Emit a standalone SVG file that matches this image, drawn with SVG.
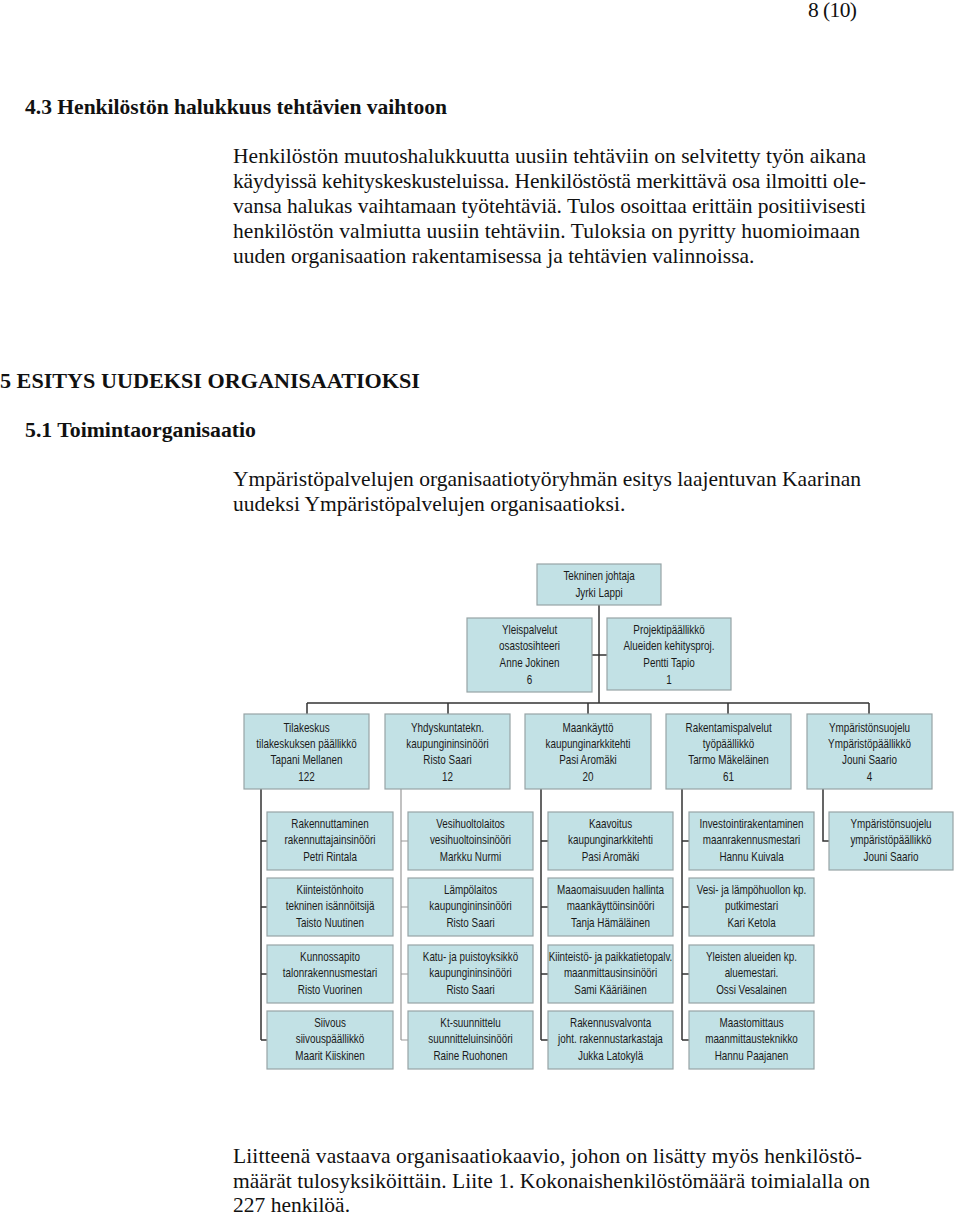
<svg xmlns="http://www.w3.org/2000/svg" width="960" height="1215" viewBox="0 0 960 1215">
<style>
.body{font-family:"Liberation Serif","Times New Roman",serif;font-size:21.5px;fill:#111}
.head{font-family:"Liberation Serif","Times New Roman",serif;font-size:22px;font-weight:bold;fill:#111}
.box{fill:#c2e1e5;stroke:#97a4a6;stroke-width:1.2}
.bt{font-family:"Liberation Sans",Arial,sans-serif;font-size:12.5px;fill:#1a1a1a;text-anchor:middle;transform-box:fill-box;transform-origin:center;transform:scaleX(0.79)}
.ln{fill:none;stroke:#333;stroke-width:1.5}
.lg{fill:none;stroke:#999;stroke-width:1.2}
</style>
<rect width="960" height="1215" fill="#fff"/>
<text class="body" x="808" y="17" textLength="49">8 (10)</text>
<text class="head" x="25" y="114" textLength="422" lengthAdjust="spacingAndGlyphs">4.3 Henkilöstön halukkuus tehtävien vaihtoon</text>
<text class="body" x="233" y="163" textLength="633">Henkilöstön muutoshalukkuutta uusiin tehtäviin on selvitetty työn aikana</text>
<text class="body" x="233" y="188" textLength="633">käydyissä kehityskeskusteluissa. Henkilöstöstä merkittävä osa ilmoitti ole-</text>
<text class="body" x="233" y="213" textLength="633">vansa halukas vaihtamaan työtehtäviä. Tulos osoittaa erittäin positiivisesti</text>
<text class="body" x="233" y="238" textLength="627">henkilöstön valmiutta uusiin tehtäviin. Tuloksia on pyritty huomioimaan</text>
<text class="body" x="233" y="263">uuden organisaation rakentamisessa ja tehtävien valinnoissa.</text>
<text class="head" x="0" y="388" textLength="420" lengthAdjust="spacingAndGlyphs">5 ESITYS UUDEKSI ORGANISAATIOKSI</text>
<text class="head" x="25" y="437" textLength="231" lengthAdjust="spacingAndGlyphs">5.1 Toimintaorganisaatio</text>
<text class="body" x="233" y="486" textLength="628">Ympäristöpalvelujen organisaatiotyöryhmän esitys laajentuvan Kaarinan</text>
<text class="body" x="233" y="511">uudeksi Ympäristöpalvelujen organisaatioksi.</text>
<text class="body" x="233" y="1163" textLength="629">Liitteenä vastaava organisaatiokaavio, johon on lisätty myös henkilöstö-</text>
<text class="body" x="233" y="1188" textLength="637">määrät tulosyksiköittäin. Liite 1. Kokonaishenkilöstömäärä toimialalla on</text>
<text class="body" x="233" y="1212">227 henkilöä.</text>

<g id="connectors">
<path class="ln" d="M599 605V703M592 655H607M307 703H869M307 703V714M448 703V714M588 703V714M728 703V714M869 703V714"/>
<path class="ln" d="M261 789V1040M261 841H267M261 907H267M261 974H267M261 1040H267"/>
<path class="lg" d="M401 789V1040M401 841H408M401 907H408M401 974H408M401 1040H408"/>
<path class="ln" d="M541 789V1040M541 841H548M541 907H548M541 974H548M541 1040H548"/>
<path class="ln" d="M682 789V1040M682 841H689M682 907H689M682 974H689M682 1040H689"/>
<path class="ln" d="M823 789V841H829"/>
</g>

<g id="n-tekninen"><rect class="box" x="537" y="564" width="124" height="41"/><text class="bt" x="599" y="580">Tekninen johtaja</text><text class="bt" x="599" y="597">Jyrki Lappi</text></g>
<g id="n-yleis"><rect class="box" x="467" y="618" width="125" height="74"/><text class="bt" x="529.5" y="634">Yleispalvelut</text><text class="bt" x="529.5" y="650">osastosihteeri</text><text class="bt" x="529.5" y="667">Anne Jokinen</text><text class="bt" x="529.5" y="684">6</text></g>
<g id="n-projekti"><rect class="box" x="607" y="618" width="124" height="72"/><text class="bt" x="669" y="634">Projektipäällikkö</text><text class="bt" x="669" y="650">Alueiden kehitysproj.</text><text class="bt" x="669" y="667">Pentti Tapio</text><text class="bt" x="669" y="684">1</text></g>

<g id="n-tilakeskus"><rect class="box" x="244" y="714" width="125" height="75"/><text class="bt" x="306.5" y="732">Tilakeskus</text><text class="bt" x="306.5" y="748">tilakeskuksen päällikkö</text><text class="bt" x="306.5" y="764">Tapani Mellanen</text><text class="bt" x="306.5" y="781">122</text></g>
<g id="n-yhdysk"><rect class="box" x="385" y="714" width="125" height="75"/><text class="bt" x="447.5" y="732">Yhdyskuntatekn.</text><text class="bt" x="447.5" y="748">kaupungininsinööri</text><text class="bt" x="447.5" y="764">Risto Saari</text><text class="bt" x="447.5" y="781">12</text></g>
<g id="n-maankaytto"><rect class="box" x="525" y="714" width="126" height="75"/><text class="bt" x="588" y="732">Maankäyttö</text><text class="bt" x="588" y="748">kaupunginarkkitehti</text><text class="bt" x="588" y="764">Pasi Aromäki</text><text class="bt" x="588" y="781">20</text></g>
<g id="n-rakentamis"><rect class="box" x="666" y="714" width="125" height="75"/><text class="bt" x="728.5" y="732">Rakentamispalvelut</text><text class="bt" x="728.5" y="748">työpäällikkö</text><text class="bt" x="728.5" y="764">Tarmo Mäkeläinen</text><text class="bt" x="728.5" y="781">61</text></g>
<g id="n-ymparisto"><rect class="box" x="807" y="714" width="125" height="75"/><text class="bt" x="869.5" y="732">Ympäristönsuojelu</text><text class="bt" x="869.5" y="748">Ympäristöpäällikkö</text><text class="bt" x="869.5" y="764">Jouni Saario</text><text class="bt" x="869.5" y="781">4</text></g>

<g id="n-rakennuttaminen"><rect class="box" x="267" y="812" width="126" height="58"/><text class="bt" x="330" y="828">Rakennuttaminen</text><text class="bt" x="330" y="844">rakennuttajainsinööri</text><text class="bt" x="330" y="861">Petri Rintala</text></g>
<g id="n-kiinteistonhoito"><rect class="box" x="267" y="878" width="126" height="58"/><text class="bt" x="330" y="894">Kiinteistönhoito</text><text class="bt" x="330" y="910">tekninen isännöitsijä</text><text class="bt" x="330" y="927">Taisto Nuutinen</text></g>
<g id="n-kunnossapito"><rect class="box" x="267" y="945" width="126" height="58"/><text class="bt" x="330" y="961">Kunnossapito</text><text class="bt" x="330" y="977">talonrakennusmestari</text><text class="bt" x="330" y="994">Risto Vuorinen</text></g>
<g id="n-siivous"><rect class="box" x="267" y="1011" width="126" height="58"/><text class="bt" x="330" y="1027">Siivous</text><text class="bt" x="330" y="1043">siivouspäällikkö</text><text class="bt" x="330" y="1060">Maarit Kiiskinen</text></g>

<g id="n-vesihuolto"><rect class="box" x="408" y="812" width="125" height="58"/><text class="bt" x="470.5" y="828">Vesihuoltolaitos</text><text class="bt" x="470.5" y="844">vesihuoltoinsinööri</text><text class="bt" x="470.5" y="861">Markku Nurmi</text></g>
<g id="n-lampolaitos"><rect class="box" x="408" y="878" width="125" height="58"/><text class="bt" x="470.5" y="894">Lämpölaitos</text><text class="bt" x="470.5" y="910">kaupungininsinööri</text><text class="bt" x="470.5" y="927">Risto Saari</text></g>
<g id="n-katu"><rect class="box" x="408" y="945" width="125" height="58"/><text class="bt" x="470.5" y="961">Katu- ja puistoyksikkö</text><text class="bt" x="470.5" y="977">kaupungininsinööri</text><text class="bt" x="470.5" y="994">Risto Saari</text></g>
<g id="n-kt"><rect class="box" x="408" y="1011" width="125" height="58"/><text class="bt" x="470.5" y="1027">Kt-suunnittelu</text><text class="bt" x="470.5" y="1043">suunnitteluinsinööri</text><text class="bt" x="470.5" y="1060">Raine Ruohonen</text></g>

<g id="n-kaavoitus"><rect class="box" x="548" y="812" width="125" height="58"/><text class="bt" x="610.5" y="828">Kaavoitus</text><text class="bt" x="610.5" y="844">kaupunginarkkitehti</text><text class="bt" x="610.5" y="861">Pasi Aromäki</text></g>
<g id="n-maaomaisuus"><rect class="box" x="548" y="878" width="125" height="58"/><text class="bt" x="610.5" y="894">Maaomaisuuden hallinta</text><text class="bt" x="610.5" y="910">maankäyttöinsinööri</text><text class="bt" x="610.5" y="927">Tanja Hämäläinen</text></g>
<g id="n-kiinteisto"><rect class="box" x="548" y="945" width="125" height="58"/><text class="bt" x="610.5" y="961">Kiinteistö- ja paikkatietopalv.</text><text class="bt" x="610.5" y="977">maanmittausinsinööri</text><text class="bt" x="610.5" y="994">Sami Kääriäinen</text></g>
<g id="n-rakennusvalvonta"><rect class="box" x="548" y="1011" width="125" height="58"/><text class="bt" x="610.5" y="1027">Rakennusvalvonta</text><text class="bt" x="610.5" y="1043">joht. rakennustarkastaja</text><text class="bt" x="610.5" y="1060">Jukka Latokylä</text></g>

<g id="n-investointi"><rect class="box" x="689" y="812" width="125" height="58"/><text class="bt" x="751.5" y="828">Investointirakentaminen</text><text class="bt" x="751.5" y="844">maanrakennusmestari</text><text class="bt" x="751.5" y="861">Hannu Kuivala</text></g>
<g id="n-vesilampo"><rect class="box" x="689" y="878" width="125" height="58"/><text class="bt" x="751.5" y="894">Vesi- ja lämpöhuollon kp.</text><text class="bt" x="751.5" y="910">putkimestari</text><text class="bt" x="751.5" y="927">Kari Ketola</text></g>
<g id="n-yleisten"><rect class="box" x="689" y="945" width="125" height="58"/><text class="bt" x="751.5" y="961">Yleisten alueiden kp.</text><text class="bt" x="751.5" y="977">aluemestari.</text><text class="bt" x="751.5" y="994">Ossi Vesalainen</text></g>
<g id="n-maastomittaus"><rect class="box" x="689" y="1011" width="125" height="58"/><text class="bt" x="751.5" y="1027">Maastomittaus</text><text class="bt" x="751.5" y="1043">maanmittausteknikko</text><text class="bt" x="751.5" y="1060">Hannu Paajanen</text></g>

<g id="n-ymparisto-sub"><rect class="box" x="829" y="812" width="124" height="58"/><text class="bt" x="891" y="828">Ympäristönsuojelu</text><text class="bt" x="891" y="844">ympäristöpäällikkö</text><text class="bt" x="891" y="861">Jouni Saario</text></g>
</svg>
